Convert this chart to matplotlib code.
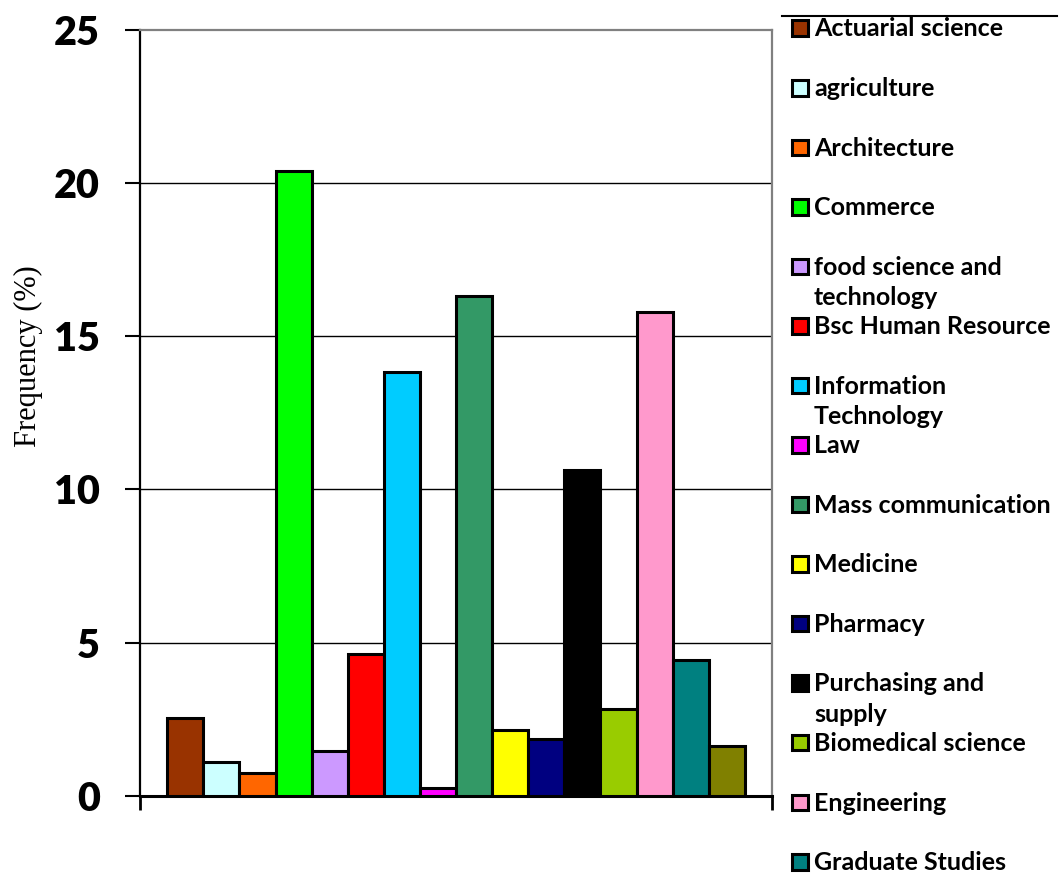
import matplotlib
matplotlib.use("Agg")
import matplotlib.pyplot as plt
import numpy as np
from matplotlib.patches import Rectangle
from matplotlib.lines import Line2D

# data
categories = ["Actuarial science", "agriculture", "Architecture", "Commerce",
              "food science and\ntechnology", "Bsc Human Resource",
              "Information\nTechnology", "Law", "Mass communication",
              "Medicine", "Pharmacy", "Purchasing and\nsupply",
              "Biomedical science", "Engineering", "Graduate Studies", ""]
values = [2.55, 1.1, 0.75, 20.4, 1.45, 4.62, 13.83, 0.25, 16.32,
          2.15, 1.85, 10.65, 2.83, 15.8, 4.42, 1.63]
colors = ["#993300", "#CCFFFF", "#FF6600", "#00FF00", "#CC99FF", "#FF0000",
          "#00CCFF", "#FF00FF", "#339966", "#FFFF00", "#000080", "#000000",
          "#99CC00", "#FF99CC", "#008080", "#808000"]
yticks = [0, 5, 10, 15, 20, 25]

W, H = 1063, 873
fig = plt.figure(figsize=(W / 100, H / 100), dpi=100)
ax = fig.add_axes([140 / W, (H - 795.7) / H, 632 / W, 765.7 / H])

n = len(values)
bw = 36.1 / 632
xpos = (np.arange(n) - (n - 1) / 2) * bw
ax.bar(xpos, values, width=bw, color=colors, edgecolor="black",
       linewidth=2.2, zorder=3)

ax.set_xlim(-0.5, 0.5)
ax.set_ylim(0, 25)
ax.set_yticks(yticks)
ax.set_yticklabels([str(t) for t in yticks], family="Lato",
                   fontweight="heavy", fontsize=28.5)
ax.set_xticks([-0.5, 0.5])
ax.set_xticklabels(["", ""])
ax.tick_params(axis="y", direction="out", length=11, width=1.5,
               pad=18, color="black")
ax.tick_params(axis="x", direction="out", length=10, width=2,
               color="black")
for t in yticks[1:-1]:
    ax.axhline(t, color="black", linewidth=1.0, zorder=1)

ax.spines["left"].set_color("black")
ax.spines["left"].set_linewidth(1.6)
ax.spines["bottom"].set_color("black")
ax.spines["bottom"].set_linewidth(2.2)
ax.spines["top"].set_color("#808080")
ax.spines["top"].set_linewidth(1.6)
ax.spines["right"].set_color("#808080")
ax.spines["right"].set_linewidth(1.6)

fig.text(28 / W, 1 - 356 / H, "Frequency (%)", rotation=90,
         family="Liberation Serif", fontsize=22, ha="center", va="center")

# legend, drawn by hand so that wrapped names overlap like the original
fig.add_artist(Line2D([782 / W, 1057 / W], [1 - 15.7 / H, 1 - 15.7 / H],
                      color="black", linewidth=1.5))
step = 59.54
for i, (lab, c) in enumerate(zip(categories, colors)):
    if not lab:
        continue
    yc = 28 + i * step
    fig.add_artist(Rectangle((792 / W, 1 - (yc + 8) / H), 15.5 / W, 15.5 / H,
                             facecolor=c, edgecolor="black", linewidth=2.2))
    fig.text(814 / W, 1 - (yc - 10.5) / H, lab, family="Lato",
             fontweight="bold", fontsize=18, ha="left", va="top",
             linespacing=1.4)

fig.savefig("out.png", dpi=100)
